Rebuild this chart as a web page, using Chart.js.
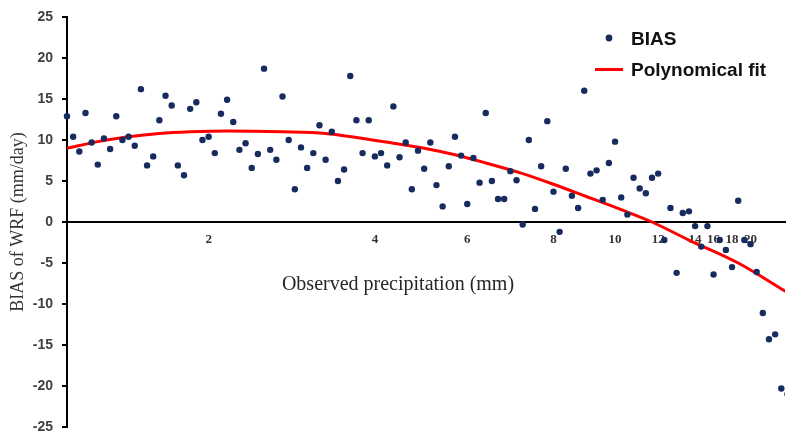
<!DOCTYPE html>
<html>
<head>
<meta charset="utf-8">
<script src="https://cdn.jsdelivr.net/npm/chart.js@4/dist/chart.umd.min.js"></script>
<style>
  html, body { margin: 0; padding: 0; background: #ffffff; overflow: hidden; }
  canvas { display: block; }
</style>
</head>
<body>
<canvas id="biasChart" width="789" height="432"></canvas>
<script>
// WRF bias per observation, ordered by observed precipitation (rank 0..117)
const biasValues = [
  12.9, 10.4, 8.6, 13.3, 9.7, 7.0, 10.2, 8.9, 12.9, 10.0,
  10.4, 9.3, 16.2, 6.9, 8.0, 12.4, 15.4, 14.2, 6.9, 5.7,
  13.8, 14.6, 10.0, 10.4, 8.4, 13.2, 14.9, 12.2, 8.8, 9.6,
  6.6, 8.3, 18.7, 8.8, 7.6, 15.3, 10.0, 4.0, 9.1, 6.6,
  8.4, 11.8, 7.6, 11.0, 5.0, 6.4, 17.8, 12.4, 8.4, 12.4,
  8.0, 8.4, 6.9, 14.1, 7.9, 9.7, 4.0, 8.7, 6.5, 9.7,
  4.5, 1.9, 6.8, 10.4, 8.1, 2.2, 7.8, 4.8, 13.3, 5.0,
  2.8, 2.8, 6.2, 5.1, -0.3, 10.0, 1.6, 6.8, 12.3, 3.7,
  -1.2, 6.5, 3.2, 1.7, 16.0, 5.9, 6.3, 2.7, 7.2, 9.8,
  3.0, 0.9, 5.4, 4.1, 3.5, 5.4, 5.9, -2.2, 1.7, -6.2,
  1.1, 1.3, -0.5, -3.0, -0.5, -6.4, -2.2, -3.4, -5.5, 2.6,
  -2.2, -2.7, -6.1, -11.1, -14.3, -13.7, -20.3, -21.0
];

// Polynomial fit curve, sampled along the rank axis
const fitRank   = [0, 5, 10, 15, 20, 26, 35, 42, 47, 53, 58, 63, 68, 74, 79, 84, 90, 95, 101, 109, 117];
const fitValues = [9.0, 9.8, 10.4, 10.8, 11.0, 11.1, 11.0, 10.8, 10.3, 9.6, 9.0, 8.2, 7.2, 5.9, 4.6, 3.2, 1.5, 0.0, -2.2, -5.0, -8.6];

// Observed precipitation labels and the ranks where they fall
const tickRank   = [23, 50, 65, 79, 89, 96, 102, 105, 108, 111];
const tickLabels = ['2', '4', '6', '8', '10', '12', '14', '16', '18', '20'];

const seriesNames = ['BIAS', 'Polynomical fit'];
const xTitle = 'Observed precipitation (mm)';
const yTitle = 'BIAS of WRF (mm/day)';

const pointColor = '#172b5e';
const fitColor = '#ff0000';

// Axis caption under the zero line and the legend inside the plot
const overlayText = {
  id: 'overlayText',
  afterDraw(chart) {
    const ctx = chart.ctx;
    const ds = chart.data.datasets;
    ctx.save();
    ctx.textBaseline = 'alphabetic';

    ctx.font = '20px "Liberation Serif", "Times New Roman", serif';
    ctx.fillStyle = '#262626';
    ctx.textAlign = 'center';
    ctx.fillText(xTitle, 398, 289.5);

    ctx.font = 'bold 19px "Liberation Sans", Arial, sans-serif';
    ctx.textAlign = 'left';
    ctx.fillStyle = ds[0].backgroundColor;
    ctx.beginPath();
    ctx.arc(609, 38, 3.4, 0, Math.PI * 2);
    ctx.fill();
    ctx.fillStyle = '#111111';
    ctx.fillText(ds[0].label, 631, 44.5);

    ctx.strokeStyle = ds[1].borderColor;
    ctx.lineWidth = 3;
    ctx.beginPath();
    ctx.moveTo(595, 69.5);
    ctx.lineTo(623, 69.5);
    ctx.stroke();
    ctx.fillStyle = '#111111';
    ctx.fillText(ds[1].label, 631, 76);
    ctx.restore();
  }
};

new Chart(document.getElementById('biasChart'), {
  type: 'scatter',
  data: {
    datasets: [
      {
        label: seriesNames[0],
        data: biasValues.map((v, i) => ({ x: i, y: v })),
        backgroundColor: pointColor,
        borderColor: pointColor,
        pointRadius: 3.2,
        pointBorderWidth: 0,
        order: 0,
        clip: { left: 6, top: 6, right: 0, bottom: 6 }
      },
      {
        label: seriesNames[1],
        data: fitRank.map((r, i) => ({ x: r, y: fitValues[i] })),
        showLine: true,
        borderColor: fitColor,
        backgroundColor: fitColor,
        borderWidth: 3,
        pointRadius: 0,
        cubicInterpolationMode: 'monotone',
        order: 1
      }
    ]
  },
  options: {
    responsive: false,
    animation: false,
    devicePixelRatio: 1,
    layout: { padding: { top: 17, bottom: 5, left: 0, right: 0 } },
    plugins: {
      legend: { display: false },
      tooltip: { enabled: false }
    },
    scales: {
      x: {
        type: 'linear',
        position: { y: 0 },
        min: 0,
        max: 116.6,
        grid: { display: false, drawTicks: false },
        border: { display: true, color: '#000000', width: 2 },
        afterBuildTicks(scale) {
          scale.ticks = tickRank.map(v => ({ value: v }));
        },
        afterFit(scale) {
          scale.height = 0;
          scale.paddingLeft = 0;
          scale.paddingRight = 0;
        },
        ticks: {
          autoSkip: false,
          maxRotation: 0,
          minRotation: 0,
          padding: 10,
          color: '#333333',
          font: { family: '"Liberation Serif", "Times New Roman", serif', size: 13, weight: 'bold' },
          callback: (v) => {
            const k = tickRank.indexOf(v);
            return k >= 0 ? tickLabels[k] : '';
          }
        },
        title: { display: false }
      },
      y: {
        type: 'linear',
        position: 'left',
        min: -25,
        max: 25,
        grid: {
          display: true,
          drawOnChartArea: false,
          drawTicks: true,
          tickLength: 5,
          color: '#000000',
          lineWidth: 2
        },
        border: { display: true, color: '#000000', width: 2 },
        afterFit(scale) {
          scale.width = 67;
          scale.paddingTop = 0;
          scale.paddingBottom = 0;
        },
        ticks: {
          stepSize: 5,
          padding: 9,
          color: '#404040',
          font: { family: '"Liberation Sans", Arial, sans-serif', size: 14, weight: 'bold' }
        },
        title: {
          display: true,
          text: yTitle,
          color: '#333333',
          padding: { top: 7, bottom: 0 },
          font: { family: '"Liberation Serif", "Times New Roman", serif', size: 18 }
        }
      }
    }
  },
  plugins: [overlayText]
});
</script>
</body>
</html>
